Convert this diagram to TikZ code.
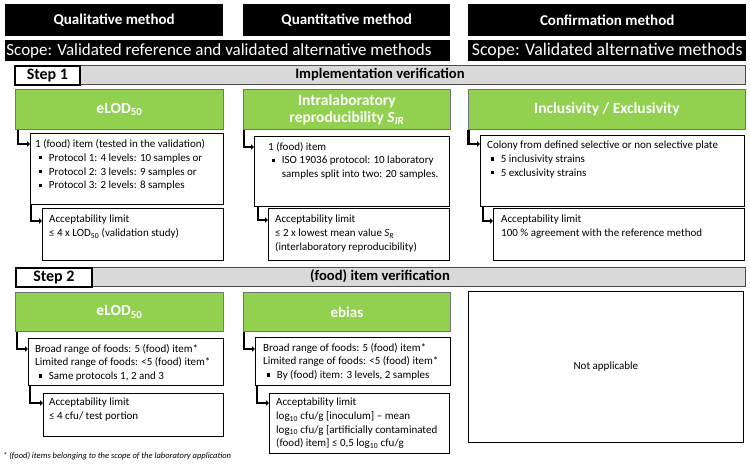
\documentclass[tikz,border=0pt]{standalone}
\usepackage{fontspec}
\setmainfont{Carlito}
\usepackage{xcolor}
\usetikzlibrary{calc,arrows.meta}
\definecolor{leaf}{HTML}{92D050}
\definecolor{barfill}{HTML}{D9D9D9}
\newcommand{\itm}{\hspace*{4pt}\rule[2pt]{3.2pt}{3.2pt}\hspace{6.5pt}}
\newcommand{\ind}{\hspace*{13.7pt}}

\begin{document}
\begin{tikzpicture}[x=1pt,y=-1pt,font=\fontsize{11}{13.7}\selectfont]
% Styles for the boxes
\tikzstyle{head box}=[fill=black,text=white,inner sep=0,anchor=north west,font=\bfseries\fontsize{15}{17}\selectfont];
\tikzstyle{scope box}=[fill=black,text=white,inner sep=0,anchor=north west];
\tikzstyle{bar}=[fill=barfill,draw=black!70,line width=1pt,inner sep=0,anchor=north west];
\tikzstyle{bar text}=[inner sep=0,font=\bfseries\fontsize{14.6}{16}\selectfont];
\tikzstyle{step box}=[fill=white,draw=black,line width=1.8pt,inner sep=0,anchor=north west,font=\bfseries\fontsize{16}{18}\selectfont];
\tikzstyle{green box}=[fill=leaf,draw=black!55,line width=0.8pt,text=white,inner sep=0,anchor=north west,align=center,font=\bfseries\fontsize{15.5}{17}\selectfont];
\tikzstyle{text box}=[draw=black,line width=0.8pt,inner sep=0,anchor=north west];
\tikzstyle{box text}=[inner xsep=6pt,inner ysep=6pt,anchor=north west,align=left];
\tikzstyle{l arrow}=[line width=2.2pt,-{Triangle[length=3pt,width=5.5pt]}];
\useasboundingbox (0,0) rectangle (750,464);
% Headers
\node[head box,minimum width=218,minimum height=32](h1) at (5,4){Qualitative method};
\node[head box,minimum width=207,minimum height=32](h2) at (243,4){Quantitative method};
\node[head box,minimum width=278,minimum height=32](h3) at (468,4){Confirmation method};
\node[scope box,minimum width=445,minimum height=21](s1) at (5,40){};
\node[text=white,inner sep=0,font=\fontsize{17}{19}\selectfont](s1txt) at (219,51){Scope: Validated reference and validated alternative methods};
\node[scope box,minimum width=278,minimum height=21,font=\fontsize{17.8}{19}\selectfont](s2) at (468,40){Scope: Validated alternative methods};
% Step 1
\node[bar,minimum width=730,minimum height=19](b1) at (15,65){};
\node[bar text](b1txt) at (380,74.5){Implementation verification};
\node[step box,minimum width=65,minimum height=19](st1) at (14,65){Step 1};
\node[green box,minimum width=208,minimum height=40](g1) at (15,89){eLOD\textsubscript{50}};
\node[green box,minimum width=207,minimum height=40](g2) at (243,89){Intralaboratory\\reproducibility \textit{S}\textsubscript{\textit{IR}}};
\node[green box,minimum width=277,minimum height=40](g3) at (468,89){Inclusivity / Exclusivity};
\node[text box,minimum width=193,minimum height=71](t1) at (30,133){};
\node[box text,inner xsep=5pt,inner ysep=6.5pt](t1txt) at (t1.north west){1 (food) item (tested in the validation)\\
\itm Protocol 1: 4 levels: 10 samples or\\
\itm Protocol 2: 3 levels: 9 samples or\\
\itm Protocol 3: 2 levels: 8 samples};
\node[text box,minimum width=195,minimum height=70](t2) at (254,136){};
\node[box text,inner xsep=14pt](t2txt) at (t2.north west){1 (food) item\\
\itm ISO 19036 protocol: 10 laboratory\\
\ind samples split into two: 20 samples.};
\node[text box,minimum width=264,minimum height=71](t3) at (480,135){};
\node[box text,inner xsep=7pt](t3txt) at (t3.north west){Colony from defined selective or non selective plate\\
\itm 5 inclusivity strains\\
\itm 5 exclusivity strains};
\node[text box,minimum width=181,minimum height=52](a1) at (42,208){};
\node[box text,inner xsep=7pt,inner ysep=7pt](a1txt) at (a1.north west){Acceptability limit\\ ≤ 4 x LOD\textsubscript{50} (validation study)};
\node[text box,minimum width=181,minimum height=52](a2) at (268,208){};
\node[box text,inner xsep=7pt,inner ysep=7pt](a2txt) at (a2.north west){Acceptability limit\\ ≤ 2 x lowest mean value \textit{S}\textsubscript{\textit{R}}\\ (interlaboratory reproducibility)};
\node[text box,minimum width=251,minimum height=52](a3) at (493,208){};
\node[box text,inner xsep=8pt,inner ysep=7pt](a3txt) at (a3.north west){Acceptability limit\\ 100 \% agreement with the reference method};
% Step 2
\node[bar,minimum width=730,minimum height=19](b2) at (15,267){};
\node[bar text](b2txt) at (380,276.5){(food) item verification};
\node[step box,minimum width=76,minimum height=19](st2) at (15,267){Step 2};
\node[green box,minimum width=208,minimum height=39](g4) at (15,292){eLOD\textsubscript{50}};
\node[green box,minimum width=207,minimum height=39,font=\bfseries\fontsize{15}{17}\selectfont](g5) at (243,292){ebias};
\node[text box,minimum width=195,minimum height=47](t4) at (28,338){};
\node[box text,inner xsep=7pt](t4txt) at (t4.north west){Broad range of foods: 5 (food) item*\\
Limited range of foods: <5 (food) item*\\
\itm Same protocols 1, 2 and 3};
\node[text box,minimum width=195,minimum height=48](t5) at (255,337){};
\node[box text,inner xsep=8pt](t5txt) at (t5.north west){Broad range of foods: 5 (food) item*\\
Limited range of foods: <5 (food) item*\\
\itm By (food) item: 3 levels, 2 samples};
\node[text box,minimum width=180,minimum height=43](a4) at (43,393){};
\node[box text,inner xsep=6pt,inner ysep=5pt](a4txt) at (a4.north west){Acceptability limit\\ ≤ 4 cfu/ test portion};
\node[text box,minimum width=180,minimum height=60](a5) at (269,393){};
\node[box text,inner xsep=7pt,inner ysep=5pt](a5txt) at (a5.north west){Acceptability limit\\
log\textsubscript{10} cfu/g [inoculum] – mean\\
log\textsubscript{10} cfu/g [artificially contaminated\\
(food) item] ≤ 0,5 log\textsubscript{10} cfu/g};
\node[text box,minimum width=275,minimum height=151](na) at (468,291){};
\node(natxt) at (na.center){Not applicable};
% L arrows
\draw[l arrow]([xshift=3pt]g1.south west)|-([yshift=-11pt]t1.north west);
\draw[l arrow]([xshift=1pt]g2.south west)|-([yshift=-11pt]t2.north west);
\draw[l arrow]([xshift=0.5pt]g3.south west)|-([yshift=-9pt]t3.north west);
\draw[l arrow]([xshift=1pt]t1.south west)|-([yshift=-13pt]a1.north west);
\draw[l arrow]([xshift=4pt]t2.south west)|-([yshift=-12pt]a2.north west);
\draw[l arrow]([xshift=3pt]t3.south west)|-([yshift=-13pt]a3.north west);
\draw[l arrow]([xshift=2pt]g4.south west)|-([yshift=-11pt]t4.north west);
\draw[l arrow]([xshift=1pt]g5.south west)|-([yshift=-12pt]t5.north west);
\draw[l arrow]([xshift=2pt]t4.south west)|-([yshift=-10pt]a4.north west);
\draw[l arrow]([xshift=2pt]t5.south west)|-([yshift=-10pt]a5.north west);
% footnote
\node[anchor=west,inner sep=0,font=\itshape\fontsize{8.5}{10}\selectfont](fn) at (3,456){* (food) items belonging to the scope of the laboratory application};
\end{tikzpicture}
\end{document}
